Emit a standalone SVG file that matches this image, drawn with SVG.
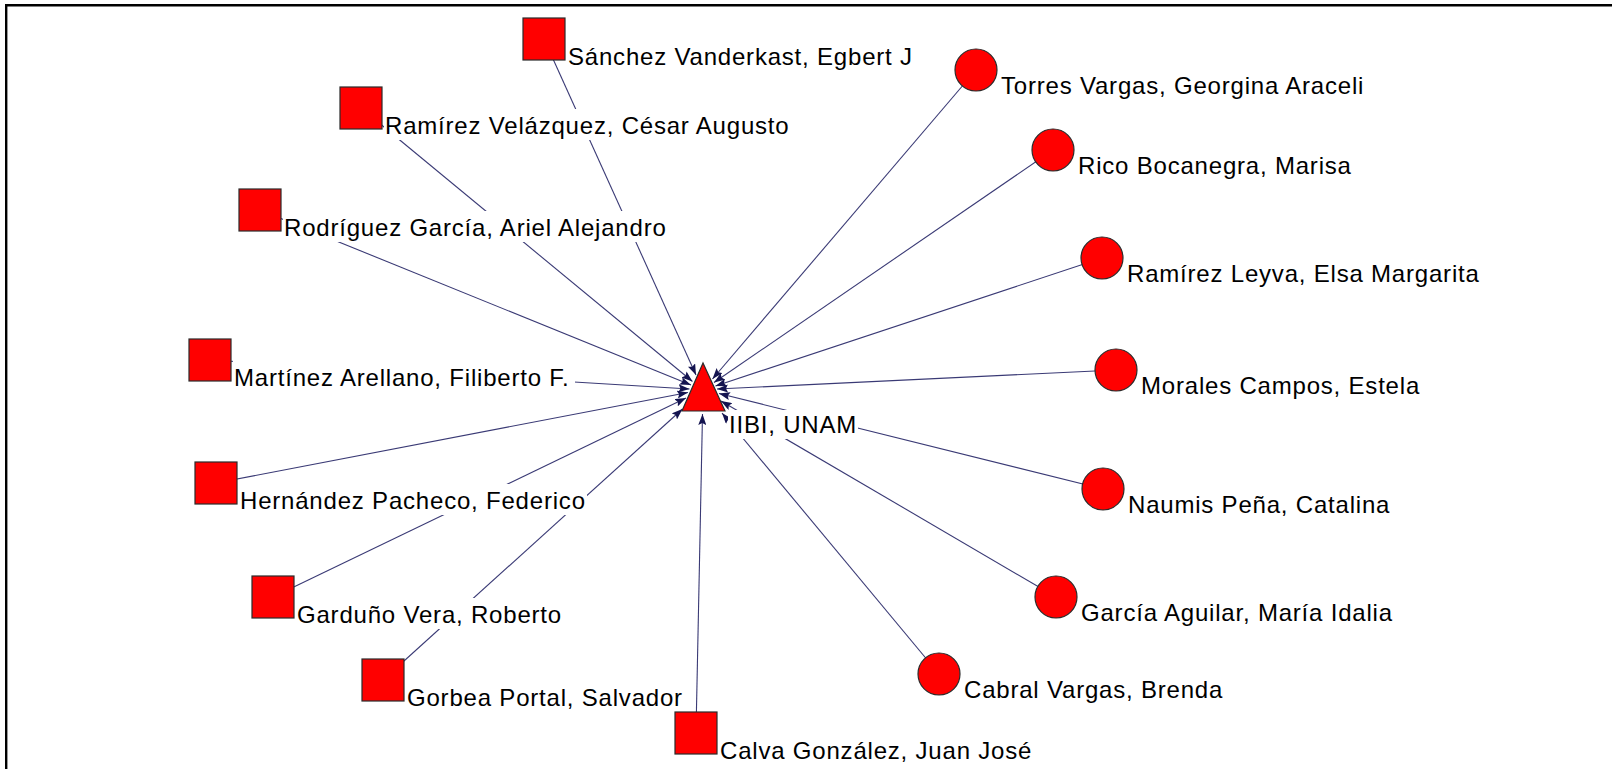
<svg xmlns="http://www.w3.org/2000/svg" width="1612" height="769" viewBox="0 0 1612 769">
<style>
.sq{fill:#ff0000;stroke:#2a2a2a;stroke-width:1.2}
.ci{fill:#ff0000;stroke:#2a2a2a;stroke-width:1.2}
.bg{fill:#ffffff}
.lb{font-family:"Liberation Sans",Arial,sans-serif;font-size:24px;letter-spacing:0.8px;fill:#000}
.ed{stroke:#3a3a75;stroke-width:1.1;fill:none;marker-end:url(#arr)}
</style>
<defs>
<marker id="arr" viewBox="0 0 11 8" refX="11" refY="4" markerWidth="11" markerHeight="8" markerUnits="userSpaceOnUse" orient="auto">
<path d="M0,0 L11,4 L0,8 L2,4 z" fill="#141450"/>
</marker>
</defs>
<rect x="0" y="0" width="1612" height="769" fill="#ffffff"/>
<path d="M6.2,780 L6.2,5.2 L1620,5.2" fill="none" stroke="#000" stroke-width="2.4"/>
<g id="connectors">
<line class="ed" x1="544" y1="39" x2="696" y2="375"/>
<line class="ed" x1="361" y1="108" x2="692.5" y2="381.5"/>
<line class="ed" x1="260" y1="210" x2="691" y2="385"/>
<line class="ed" x1="210" y1="360" x2="689.5" y2="389"/>
<line class="ed" x1="216" y1="483" x2="688" y2="392.5"/>
<line class="ed" x1="273" y1="597" x2="686" y2="398"/>
<line class="ed" x1="383" y1="680" x2="682.5" y2="409"/>
<line class="ed" x1="696" y1="733" x2="702.5" y2="414"/>
<line class="ed" x1="976" y1="70" x2="712.5" y2="379"/>
<line class="ed" x1="1053" y1="150" x2="714" y2="382.5"/>
<line class="ed" x1="1102" y1="258" x2="715.5" y2="386"/>
<line class="ed" x1="1116" y1="370" x2="717" y2="389"/>
<line class="ed" x1="1103" y1="489" x2="719" y2="393.5"/>
<line class="ed" x1="1056" y1="597" x2="721" y2="401"/>
<line class="ed" x1="939" y1="674" x2="722" y2="413"/>
</g>
<g id="node-iibi">
<polygon points="703,363 682,411 725,411" fill="#ff0000" stroke="#2a2a2a" stroke-width="1.2"/>
<rect class="bg" x="728" y="410" width="130" height="29"/>
<text class="lb" x="729" y="433">IIBI, UNAM</text>
</g>
<g id="node-sanchez">
<rect class="sq" x="523" y="18" width="42" height="42"/>
<rect class="bg" x="567" y="40" width="349" height="31"/>
<text class="lb" x="568" y="65">Sánchez Vanderkast, Egbert J</text>
</g>
<g id="node-ramirez-v">
<rect class="sq" x="340" y="87" width="42" height="42"/>
<rect class="bg" x="384" y="109" width="409" height="31"/>
<text class="lb" x="385" y="134">Ramírez Velázquez, César Augusto</text>
</g>
<g id="node-rodriguez">
<rect class="sq" x="239" y="189" width="42" height="42"/>
<rect class="bg" x="283" y="211" width="387" height="31"/>
<text class="lb" x="284" y="236">Rodríguez García, Ariel Alejandro</text>
</g>
<g id="node-martinez">
<rect class="sq" x="189" y="339" width="42" height="42"/>
<rect class="bg" x="233" y="359" width="342" height="33"/>
<text class="lb" x="234" y="386">Martínez Arellano, Filiberto F.</text>
</g>
<g id="node-hernandez">
<rect class="sq" x="195" y="462" width="42" height="42"/>
<rect class="bg" x="239" y="484" width="348" height="31"/>
<text class="lb" x="240" y="509">Hernández Pacheco, Federico</text>
</g>
<g id="node-garduno">
<rect class="sq" x="252" y="576" width="42" height="42"/>
<rect class="bg" x="296" y="598" width="268" height="31"/>
<text class="lb" x="297" y="623">Garduño Vera, Roberto</text>
</g>
<g id="node-gorbea">
<rect class="sq" x="362" y="659" width="42" height="42"/>
<rect class="bg" x="406" y="681" width="278" height="31"/>
<text class="lb" x="407" y="706">Gorbea Portal, Salvador</text>
</g>
<g id="node-calva">
<rect class="sq" x="675" y="712" width="42" height="42"/>
<rect class="bg" x="719" y="734" width="314" height="31"/>
<text class="lb" x="720" y="759">Calva González, Juan José</text>
</g>
<g id="node-torres">
<circle class="ci" cx="976" cy="70" r="21"/>
<rect class="bg" x="1000" y="69" width="371" height="31"/>
<text class="lb" x="1001" y="94">Torres Vargas, Georgina Araceli</text>
</g>
<g id="node-rico">
<circle class="ci" cx="1053" cy="150" r="21"/>
<rect class="bg" x="1077" y="149" width="276" height="31"/>
<text class="lb" x="1078" y="174">Rico Bocanegra, Marisa</text>
</g>
<g id="node-ramirez-l">
<circle class="ci" cx="1102" cy="258" r="21"/>
<rect class="bg" x="1126" y="257" width="355" height="31"/>
<text class="lb" x="1127" y="282">Ramírez Leyva, Elsa Margarita</text>
</g>
<g id="node-morales">
<circle class="ci" cx="1116" cy="370" r="21"/>
<rect class="bg" x="1140" y="369" width="281" height="31"/>
<text class="lb" x="1141" y="394">Morales Campos, Estela</text>
</g>
<g id="node-naumis">
<circle class="ci" cx="1103" cy="489" r="21"/>
<rect class="bg" x="1127" y="488" width="264" height="31"/>
<text class="lb" x="1128" y="513">Naumis Peña, Catalina</text>
</g>
<g id="node-garcia">
<circle class="ci" cx="1056" cy="597" r="21"/>
<rect class="bg" x="1080" y="596" width="317" height="31"/>
<text class="lb" x="1081" y="621">García Aguilar, María Idalia</text>
</g>
<g id="node-cabral">
<circle class="ci" cx="939" cy="674" r="21"/>
<rect class="bg" x="963" y="673" width="263" height="31"/>
<text class="lb" x="964" y="698">Cabral Vargas, Brenda</text>
</g>
</svg>
